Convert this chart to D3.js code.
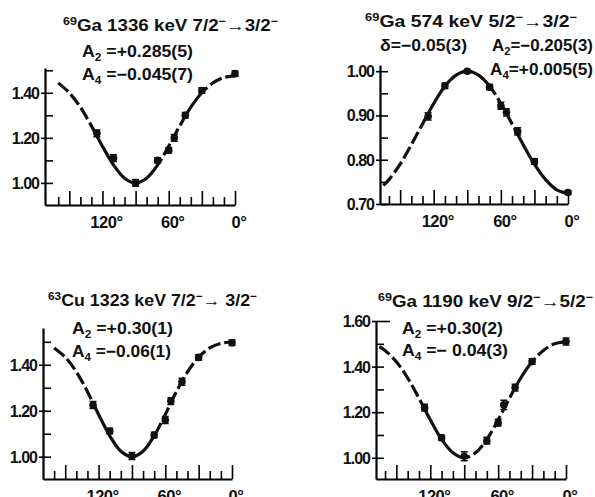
<!DOCTYPE html>
<html>
<head>
<meta charset="utf-8">
<script src="https://cdn.jsdelivr.net/npm/d3@7"></script>
<style>
  body { margin: 0; background: #fff; }
  svg text { font-family: "Liberation Sans", Arial, sans-serif; font-weight: bold; fill: #111; }
</style>
</head>
<body>
<script>
// detector angles (deg) shared by all four measurements
var angles = [125, 110, 90, 70, 60, 55, 45, 30, 0];

var ga1336 = [1.22, 1.11, 1.00, 1.10, 1.145, 1.20, 1.30, 1.41, 1.485];
var ga1336Err = [0.015, 0.015, 0.015, 0.012, 0.012, 0.015, 0.012, 0.012, 0.012];
var ga574 = [0.898, 0.967, 1.00, 0.964, 0.922, 0.907, 0.864, 0.796, 0.726];
var ga574Err = [0.008, 0.006, 0.004, 0.006, 0.008, 0.008, 0.008, 0.006, 0.004];
var cu1323 = [1.225, 1.112, 1.003, 1.094, 1.16, 1.242, 1.326, 1.432, 1.496];
var cu1323Err = [0.015, 0.012, 0.015, 0.012, 0.015, 0.015, 0.015, 0.012, 0.012];
var ga1190 = [1.22, 1.088, 1.007, 1.075, 1.154, 1.232, 1.308, 1.422, 1.51];
var ga1190Err = [0.015, 0.012, 0.02, 0.015, 0.015, 0.02, 0.015, 0.012, 0.015];

// fitted curves read at these angles
var fitAngles = [165, 160, 150, 140, 130, 120, 110, 100, 90, 80, 70, 60, 50, 40, 30, 20, 10, 0];
var ga1336Fit = [null, 1.444, 1.400, 1.336, 1.253, 1.163, 1.080, 1.021, 1.000, 1.021, 1.080, 1.163, 1.253, 1.336, 1.400, 1.444, 1.468, 1.475];
var ga574Fit = [0.742, 0.755, 0.790, 0.834, 0.881, 0.927, 0.966, 0.991, 1.000, 0.991, 0.966, 0.927, 0.881, 0.834, 0.790, 0.755, 0.732, 0.724];
var cu1323Fit = [null, 1.473, 1.433, 1.369, 1.283, 1.184, 1.091, 1.024, 1.000, 1.024, 1.091, 1.184, 1.283, 1.369, 1.433, 1.473, 1.493, 1.499];
var ga1190Fit = [1.488, 1.471, 1.421, 1.350, 1.261, 1.167, 1.081, 1.022, 1.000, 1.022, 1.081, 1.167, 1.261, 1.350, 1.421, 1.471, 1.500, 1.509];

var xTicks = [0, 10, 20, 30, 40, 50, 60, 70, 80, 90, 100, 110, 120, 130, 140, 150, 160];
var xLabels = [0, 60, 120];
var yTicksA = [1.0, 1.1, 1.2, 1.3, 1.4, 1.5];
var yLabelsA = [1.0, 1.2, 1.4];
var yTicksB = [0.70, 0.75, 0.80, 0.85, 0.90, 0.95, 1.00];
var yLabelsB = [0.70, 0.80, 0.90, 1.00];
var yTicksD = [1.0, 1.1, 1.2, 1.3, 1.4, 1.5, 1.6];
var yLabelsD = [1.0, 1.2, 1.4, 1.6];

var panels = [
	{
		vals: ga1336, errs: ga1336Err, fit: ga1336Fit,
		xd: [172, 0], xr: [45, 235], yd: [0.902, 1.51], yr: [205, 68],
		yTicks: yTicksA, yLabels: yLabelsA, solid: [[125, 70], [45, 30]],
		texts: [
			{x: 63, y: 31, len: 215, parts: [['69', 'sup'], ['Ga  1336 keV  7/2'], ['\u2212', 'sup'], ['\u21923/2'], ['\u2212', 'sup']]},
			{x: 82, y: 57, len: 111, parts: [['A'], ['2', 'sub'], [' =+0.285(5)']]},
			{x: 82, y: 80, len: 111, parts: [['A'], ['4', 'sub'], [' =\u22120.045(7)']]}
		]
	},
	{
		vals: ga574, errs: ga574Err, fit: ga574Fit,
		xd: [168, 0], xr: [380, 568], yd: [0.70, 1.014], yr: [204, 65],
		yTicks: yTicksB, yLabels: yLabelsB, solid: [[122, 65], [45, 0]],
		texts: [
			{x: 365, y: 27, len: 212, parts: [['69', 'sup'], ['Ga 574 keV  5/2'], ['\u2212', 'sup'], ['\u21923/2'], ['\u2212', 'sup']]},
			{x: 380, y: 51, len: 87, parts: [['\u03b4=\u22120.05(3)']]},
			{x: 492, y: 51, len: 101, parts: [['A'], ['2', 'sub'], ['=\u22120.205(3)']]},
			{x: 490, y: 75, len: 103, parts: [['A'], ['4', 'sub'], ['=+0.005(5)']]}
		]
	},
	{
		vals: cu1323, errs: cu1323Err, fit: cu1323Fit,
		xd: [170, 0], xr: [43, 232], yd: [0.903, 1.56], yr: [479, 328],
		yTicks: yTicksA, yLabels: yLabelsA, solid: [[125, 65]],
		texts: [
			{x: 48, y: 306, len: 209, parts: [['63', 'sup'], ['Cu  1323 keV  7/2'], ['\u2212', 'sup'], ['\u2192 3/2'], ['\u2212', 'sup']]},
			{x: 72, y: 334, len: 101, parts: [['A'], ['2', 'sub'], [' =+0.30(1)']]},
			{x: 72, y: 357, len: 99, parts: [['A'], ['4', 'sub'], [' =\u22120.06(1)']]}
		]
	},
	{
		vals: ga1190, errs: ga1190Err, fit: ga1190Fit,
		xd: [168, 0], xr: [376, 566], yd: [0.907, 1.60], yr: [479, 321],
		yTicks: yTicksD, yLabels: yLabelsD, solid: [[125, 95], [45, 30]],
		texts: [
			{x: 378, y: 307, len: 215, parts: [['69', 'sup'], ['Ga  1190 keV  9/2'], ['\u2212', 'sup'], ['\u21925/2'], ['\u2212', 'sup']]},
			{x: 402, y: 334, len: 101, parts: [['A'], ['2', 'sub'], [' =+0.30(2)']]},
			{x: 402, y: 356, len: 106, parts: [['A'], ['4', 'sub'], [' =\u2212 0.04(3)']]}
		]
	}
];

var svg = d3.select('body')
	.append('svg')
	.attr('width', 595)
	.attr('height', 497);

function richText(t) {
	var size = 16.5;
	var el = svg.append('text')
		.attr('x', t.x)
		.attr('y', t.y)
		.attr('font-size', size);
	var shift = 0;
	t.parts.forEach(function(p) {
		var target = p[1] === 'sup' ? -6 : (p[1] === 'sub' ? 4 : 0);
		el.append('tspan')
			.attr('dy', target - shift)
			.attr('font-size', p[1] ? 11 : size)
			.text(p[0]);
		shift = target;
	});
	el.attr('textLength', t.len).attr('lengthAdjust', 'spacingAndGlyphs');
}

panels.forEach(function(p) {
	var x = d3.scaleLinear().domain(p.xd).range(p.xr);
	var y = d3.scaleLinear().domain(p.yd).range(p.yr);
	var y0 = p.yr[0];
	var g = svg.append('g');

	// x axis, ticks pointing up
	var xa = g.append('g')
		.attr('transform', 'translate(0,' + y0 + ')')
		.call(d3.axisBottom(x).tickValues(xTicks).tickSize(-8).tickSizeOuter(0).tickFormat(''));
	xa.selectAll('.tick line')
		.attr('y2', function(d) { return d % 30 === 0 ? -14 : -8; })
		.attr('stroke-width', 1.6);
	xa.select('.domain').attr('stroke-width', 2.2);

	g.selectAll('.xlab')
		.data(xLabels)
		.enter()
		.append('text')
		.attr('x', function(d) { return x(d) + 4; })
		.attr('y', y0 + 23)
		.attr('text-anchor', 'middle')
		.attr('font-size', 16.5)
		.attr('letter-spacing', -0.5)
		.text(function(d) { return d + '\u00b0'; });

	// y axis, ticks pointing right
	var ya = g.append('g')
		.attr('transform', 'translate(' + p.xr[0] + ',0)')
		.call(d3.axisLeft(y).tickValues(p.yTicks).tickSize(-8).tickSizeOuter(0).tickFormat(''));
	ya.selectAll('.tick line')
		.attr('x1', function(d) { return p.yLabels.some(function(l) { return Math.abs(l - d) < 1e-6; }) ? -4 : 0; })
		.attr('x2', function(d) { return d === 1.6 ? 14 : 8; })
		.attr('stroke-width', 1.6);
	ya.select('.domain').attr('stroke-width', 2.2);

	g.selectAll('.ylab')
		.data(p.yLabels)
		.enter()
		.append('text')
		.attr('x', p.xr[0] - 6)
		.attr('y', function(d) { return y(d) + 6; })
		.attr('text-anchor', 'end')
		.attr('font-size', 16)
		.attr('letter-spacing', -1)
		.text(function(d) { return d3.format('.2f')(d); });

	// fitted curve
	var pts = fitAngles.map(function(a, i) { return [a, p.fit[i]]; })
		.filter(function(d) { return d[1] !== null; });
	var line = d3.line()
		.x(function(d) { return x(d[0]); })
		.y(function(d) { return y(d[1]); })
		.curve(d3.curveCatmullRom);
	var path = g.append('path')
		.datum(pts)
		.attr('d', line)
		.attr('fill', 'none')
		.attr('stroke', '#111')
		.attr('stroke-width', 3.2);

	// long dashes outside the solid stretches
	var node = path.node();
	var total = node.getTotalLength();
	var runs = [];
	var state = true, run = 0;
	for (var s = 0; s <= total; s += 1) {
		var a = x.invert(node.getPointAtLength(s).x);
		var solid = p.solid.some(function(r) { return a <= r[0] && a >= r[1]; });
		var on = solid || (s % 17) < 13;
		if (on === state) {
			run += 1;
		} else {
			runs.push(run);
			state = on;
			run = 1;
		}
	}
	runs.push(run);
	if (runs.length % 2 === 1) runs.push(0);
	path.attr('stroke-dasharray', runs.join(','));

	// error bars and points
	var pd = angles.map(function(a, i) { return {a: a, v: p.vals[i], e: p.errs[i]}; });
	g.selectAll('.err')
		.data(pd)
		.enter()
		.append('path')
		.attr('d', function(d) {
			var cx = x(d.a), t = y(d.v + d.e), b = y(d.v - d.e);
			return 'M' + (cx - 3.5) + ',' + t + 'H' + (cx + 3.5) + 'M' + cx + ',' + t + 'V' + b + 'M' + (cx - 3.5) + ',' + b + 'H' + (cx + 3.5);
		})
		.attr('stroke', '#111')
		.attr('stroke-width', 1.5)
		.attr('fill', 'none');
	g.selectAll('.pt')
		.data(pd)
		.enter()
		.append('circle')
		.attr('cx', function(d) { return x(d.a); })
		.attr('cy', function(d) { return y(d.v); })
		.attr('r', 3.8)
		.attr('fill', '#111');

	p.texts.forEach(richText);
});
</script>
</body>
</html>
